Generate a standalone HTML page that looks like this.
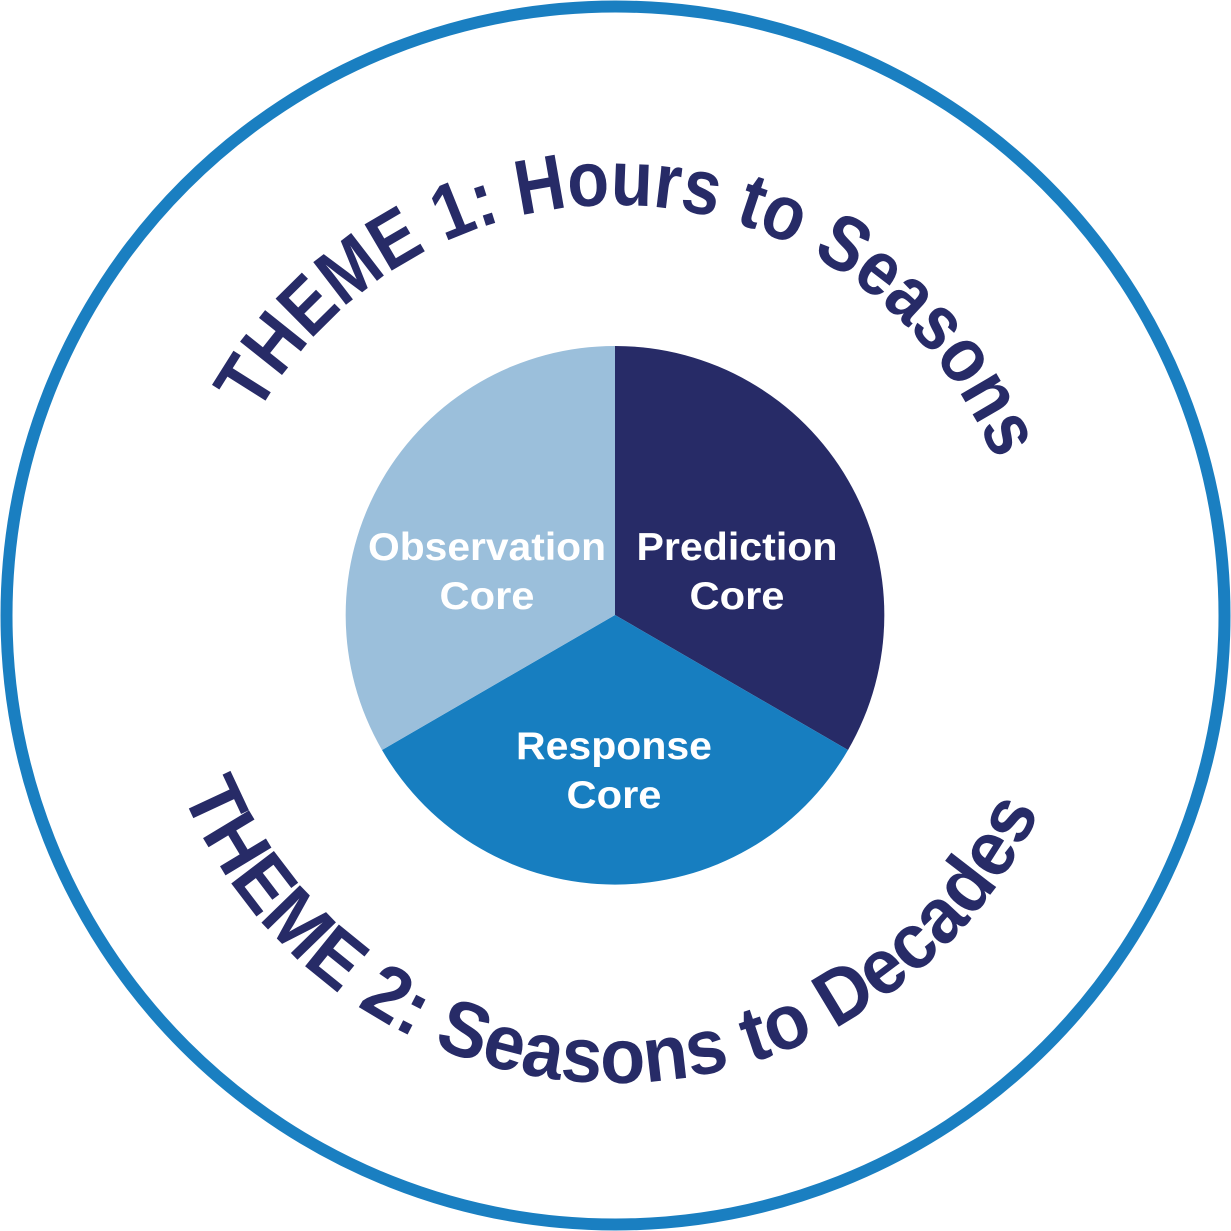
<!DOCTYPE html>
<html><head><meta charset="utf-8"><style>html,body{margin:0;padding:0;background:#fff}svg{display:block}</style></head>
<body>
<svg width="1231" height="1231" viewBox="0 0 1231 1231" xmlns="http://www.w3.org/2000/svg">
<defs>
<path id="p1" d="M 205 615 A 410 410 0 0 1 1025 615"/>
<path id="p2" d="M 147 615 A 468 468 0 0 0 1083 615"/>
</defs>
<circle cx="615.5" cy="615.5" r="609" fill="#fff" stroke="#1a7fc1" stroke-width="12"/>
<path d="M615 615 L615 346 A269 269 0 0 1 848 750 Z" fill="#272b67"/>
<path d="M615 615 L848 750 A269 269 0 0 1 382 750 Z" fill="#177ec0"/>
<path d="M615 615 L382 750 A269 269 0 0 1 615 346 Z" fill="#9bbfdb"/>
<g font-family="Liberation Sans, sans-serif" font-weight="bold" fill="#fff" font-size="39" text-anchor="middle" lengthAdjust="spacingAndGlyphs">
<text x="487" y="560" textLength="238" lengthAdjust="spacingAndGlyphs">Observation</text><text x="487" y="609" textLength="95" lengthAdjust="spacingAndGlyphs">Core</text>
<text x="737" y="560" textLength="201" lengthAdjust="spacingAndGlyphs">Prediction</text><text x="737" y="609" textLength="95" lengthAdjust="spacingAndGlyphs">Core</text>
<text x="614" y="759" textLength="196" lengthAdjust="spacingAndGlyphs">Response</text><text x="614" y="808" textLength="95" lengthAdjust="spacingAndGlyphs">Core</text>
</g>
<g font-family="Liberation Sans, sans-serif" font-weight="bold" fill="#272b67" font-size="78">
<text><textPath href="#p1" startOffset="52%" text-anchor="middle" textLength="920" lengthAdjust="spacingAndGlyphs">THEME 1: Hours to Seasons</textPath></text>
<text><textPath href="#p2" startOffset="49.3%" text-anchor="middle" textLength="1085" lengthAdjust="spacingAndGlyphs">THEME 2: Seasons to Decades</textPath></text>
</g>
</svg>
</body></html>
